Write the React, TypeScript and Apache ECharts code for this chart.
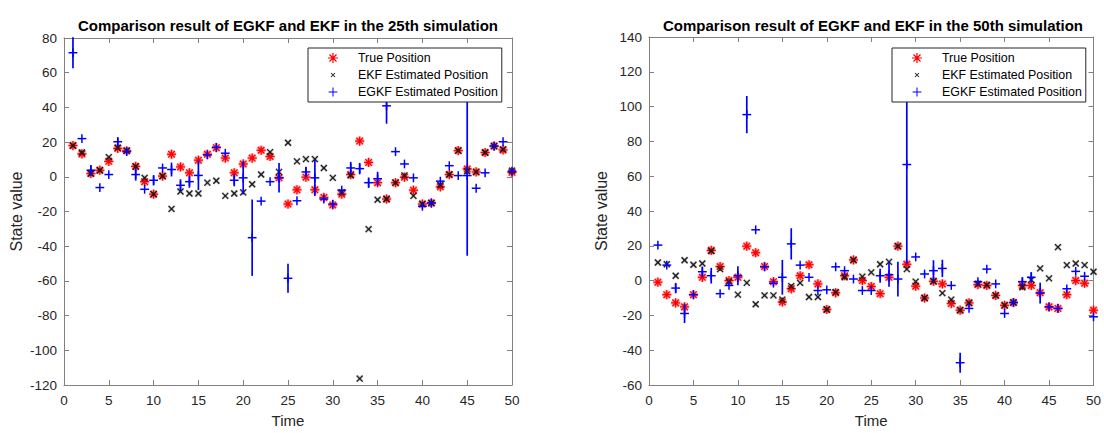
import React, { useEffect, useRef } from 'react';
import * as echarts from 'echarts';

// ---- data ----
const TIME = [1, 2, 3, 4, 5, 6, 7, 8, 9, 10, 11, 12, 13, 14, 15, 16, 17, 18, 19, 20, 21, 22, 23, 24, 25, 26, 27, 28, 29, 30, 31, 32, 33, 34, 35, 36, 37, 38, 39, 40, 41, 42, 43, 44, 45, 46, 47, 48, 49, 50];

// 25th simulation
const TRUE_25 = [18, 13.2, 1.9, 3.8, 8.9, 16.4, 15, 6, -2.8, -10, 0.4, 13, 5.7, 2.3, 9.6, 13, 16.8, 10.8, 2.3, 7.4, 10.8, 15.3, 11.7, -0.6, -15.7, -7.5, -0.2, -7.5, -11.9, -16.2, -10, 1.3, 20.6, 8.3, -3.4, -12.8, -3.4, -0.2, -7.7, -15.7, -15.1, -5.8, 1.3, 15.1, 4.5, 2.8, 14, 17.7, 15.5, 2.6];
const EKF_25 = [18, 14, 1.9, 3.8, 11.3, 16.8, 15, 6, -0.6, -10, 0.4, -18.5, -8.5, -9.6, -9.6, -3.4, -2.3, -11, -9.6, -9, -4.3, 1.3, 14.2, 2.8, 19.6, 8.9, 10.2, 10.2, 5.1, -0.6, -9, 0.8, -116.3, -30.2, -13.2, -12.8, -3.4, 0.8, -11, -15.7, -15.1, -4.7, 1.3, 15.1, 3.2, 2.8, 14, 17.7, 15.8, 3.6];
const EGKF_25 = [71.5, 22, 3.8, -6.2, 1.3, 20.2, 14.5, 1.3, -7.2, -2, 5.1, 4.2, -4.9, -2.8, 0.8, 12.6, 17, 13.6, -2, -0.6, -35.1, -14, -2.8, -0.6, -58.5, -13.8, 2.8, -0.6, -12.8, -15.7, -7.7, 5.1, 4.7, -3.4, -1.1, 40.9, 14.5, 7.4, -0.6, -17, -15.1, -2.5, 6.4, 0.7, 0.7, -6.6, 2.3, 17.7, 20.2, 3.2];
const ERR_25 = [9, 0, 3, 0, 0, 2.5, 0, 3.5, 0, 3, 0, 4, 3.5, 3.5, 8.5, 0, 0, 0, 3.5, 9.5, 22, 0, 0, 8.5, 8.4, 0, 3, 10.4, 0, 0, 0, 3.5, 3.3, 3, 4, 10.3, 0, 0, 0, 0, 0, 0, 0, 0, 46.2, 0, 0, 0, 0, 0];

// 50th simulation
const TRUE_50 = [-0.9, -8.1, -12.8, -15.1, -8.1, 1.9, 17.4, 8.1, 0, 1.9, 19.8, 16, 8.1, -0.6, -12.3, -4.7, 2.8, 9.1, -1.9, -16.6, -7, 2.8, 11.9, 0, -3.4, -7.5, 1.9, 19.8, 9.4, -3.2, -10, -0.4, -1.9, -13.2, -17, -12.8, -2.3, -2.8, -8.5, -14.2, -12.6, -2.8, -2.8, -7, -15.1, -16, -8.1, 0, -1.5, -17];
const EKF_50 = [10.4, 9.4, 2.8, 11.7, 9.1, 9.8, 17, 6.6, -0.6, -8.1, -1.3, -13.6, -8.5, -8.5, -10.9, -3.2, -1.3, -9.4, -9.4, -16.6, -6.6, 1.9, 11.9, 2.3, 4.7, 9.4, 10.8, 19.8, 6.6, -0.6, -10, -0.4, -7.2, -10.9, -17, -12.8, -1.9, -2.5, -8.5, -14.2, -12.6, -3.8, 0.4, 7, 1.3, 19.2, 8.9, 9.8, 8.9, 5.1];
const EGKF_50 = [20.4, 8.9, -4.3, -18.9, -8.1, 5.1, 2.8, -7.5, -2.8, 2.8, 95.4, 29.2, 7.9, -1.5, 1.9, 21.1, 8.9, 1.9, -5.7, -5.3, 7.9, 5.7, 0.9, -5.7, -5.7, 2.8, 3.4, 0.9, 66.7, 13.6, 3.8, 5.7, 7, -2.8, -47.2, -16, -0.6, 6.6, -1.9, -18.9, -12.6, -0.6, 1.9, -7.2, -15.1, -16, -4.7, 5.3, 2.5, -20.8];
const ERR_50 = [0, 0, 3, 5.5, 0, 3, 4.5, 0, 0, 5.5, 10.7, 0, 0, 0, 10, 9, 0, 0, 0, 0, 0, 0, 0, 0, 0, 4, 7, 10, 57, 0, 0, 6, 5, 0, 5.7, 0, 0, 0, 0, 0, 0, 2.4, 3, 6, 0, 0, 0, 0, 0, 0];

const TITLES = [
  'Comparison result of EGKF and EKF in the 25th simulation',
  'Comparison result of EGKF and EKF in the 50th simulation',
];
const SERIES_NAMES = ['True Position', 'EKF Estimated Position', 'EGKF Estimated Position'];
const X_RANGE = { min: 0, max: 50, interval: 5 };
const Y_RANGE_25 = { min: -120, max: 80, interval: 20 };
const Y_RANGE_50 = { min: -60, max: 140, interval: 20 };
const X_NAME = 'Time';
const Y_NAME = 'State value';

// ---- styles ----
const FONT = 'Liberation Sans, Arial, Helvetica, sans-serif';
const AXIS_COLOR = '#808080';
const LABEL_COLOR = '#262626';
const RED = '#ff0000';
const BLACK = '#1a1a1a';
const BLUE = '#0000ff';

const ICON_STAR = 'path://M4.4,0h1.2v10h-1.2z M0,4.4h10v1.2h-10z M1.92,1.08L8.92,8.08L8.08,8.92L1.08,1.92z M8.92,1.92L1.92,8.92L1.08,8.08L8.08,1.08z';
const ICON_X = 'path://M0,0h0.01v0.01h-0.01z M9.99,9.99h0.01v0.01h-0.01z M3.35,2.65L7.35,6.65L6.65,7.35L2.65,3.35z M7.35,3.35L3.35,7.35L2.65,6.65L6.65,2.65z';
const ICON_PLUS = 'path://M0,0h0.01v0.01h-0.01z M9.99,9.99h0.01v0.01h-0.01z M4.5,0.6h1v8.8h-1z M0.6,4.5h8.8v1h-8.8z';

const GRIDS = [
  { left: 64, top: 38, width: 448, height: 353 },
  { left: 649, top: 37, width: 448, height: 354 },
];

function seg(x1: number, y1: number, x2: number, y2: number, stroke: string, lineWidth: number) {
  return { type: 'line', shape: { x1, y1, x2, y2 }, style: { stroke, lineWidth, fill: null }, silent: true };
}

function starSeries(name: string, values: number[], idx: number) {
  return {
    type: 'custom', name, xAxisIndex: idx * 2, yAxisIndex: idx * 2,
    data: TIME.map((t, i) => [t, values[i]]),
    encode: { x: 0, y: 1 },
    itemStyle: { color: RED },
    z: 2,
    renderItem: (_p: any, api: any) => {
      const c = api.coord([api.value(0), api.value(1)]);
      const r = 4.6, d = 3.3;
      const arms = [[-r, 0, r, 0], [0, -r, 0, r], [-d, -d, d, d], [-d, d, d, -d]];
      const children: any[] = [];
      arms.forEach(a => children.push(seg(c[0] + a[0], c[1] + a[1], c[0] + a[2], c[1] + a[3], 'rgba(255,0,0,0.22)', 3.4)));
      arms.forEach(a => children.push(seg(c[0] + a[0], c[1] + a[1], c[0] + a[2], c[1] + a[3], RED, 1.3)));
      return { type: 'group', children };
    },
  };
}

function crossSeries(name: string, values: number[], idx: number) {
  return {
    type: 'custom', name, xAxisIndex: idx * 2, yAxisIndex: idx * 2,
    data: TIME.map((t, i) => [t, values[i]]),
    encode: { x: 0, y: 1 },
    itemStyle: { color: BLACK },
    z: 2,
    renderItem: (_p: any, api: any) => {
      const c = api.coord([api.value(0), api.value(1)]);
      const d = 3;
      const arms = [[-d, -d, d, d], [-d, d, d, -d]];
      const children: any[] = [];
      arms.forEach(a => children.push(seg(c[0] + a[0], c[1] + a[1], c[0] + a[2], c[1] + a[3], 'rgba(0,0,0,0.18)', 2.8)));
      arms.forEach(a => children.push(seg(c[0] + a[0], c[1] + a[1], c[0] + a[2], c[1] + a[3], BLACK, 1.2)));
      return { type: 'group', children };
    },
  };
}

function plusSeries(name: string, values: number[], errs: number[], idx: number) {
  return {
    type: 'custom', name, xAxisIndex: idx * 2, yAxisIndex: idx * 2,
    data: TIME.map((t, i) => [t, values[i], errs[i]]),
    encode: { x: 0, y: 1 },
    itemStyle: { color: BLUE },
    z: 2,
    renderItem: (_p: any, api: any) => {
      const x = api.value(0), v = api.value(1), e = api.value(2);
      const c = api.coord([x, v]);
      const top = api.coord([x, v + e]);
      const bot = api.coord([x, v - e]);
      const h = 4.4;
      const children: any[] = [];
      if (e > 0) children.push(seg(c[0], top[1], c[0], bot[1], BLUE, 1.7));
      children.push(seg(c[0] - h, c[1], c[0] + h, c[1], BLUE, 1.5));
      children.push(seg(c[0], c[1] - h, c[0], c[1] + h, BLUE, 1.5));
      return { type: 'group', children };
    },
  };
}

const lineStyle = { color: AXIS_COLOR, width: 1 };

function xAxesFor(gridIndex: number) {
  const base = { type: 'value', gridIndex, ...X_RANGE, splitLine: { show: false } };
  return [
    {
      ...base, position: 'bottom',
      axisLine: { show: true, onZero: false, lineStyle },
      axisTick: { show: true, inside: true, length: 5, lineStyle },
      axisLabel: { color: LABEL_COLOR, fontSize: 13.5, fontFamily: FONT, margin: 8 },
      name: X_NAME, nameLocation: 'middle', nameGap: 28,
      nameTextStyle: { color: LABEL_COLOR, fontSize: 15, fontFamily: FONT },
    },
    {
      ...base, position: 'top',
      axisLine: { show: true, onZero: false, lineStyle },
      axisTick: { show: true, inside: true, length: 5, lineStyle },
      axisLabel: { show: false },
    },
  ];
}

function yAxesFor(gridIndex: number, range: any) {
  const base = { type: 'value', gridIndex, ...range, splitLine: { show: false } };
  return [
    {
      ...base, position: 'left',
      axisLine: { show: true, onZero: false, lineStyle },
      axisTick: { show: true, inside: true, length: 5, lineStyle },
      axisLabel: { color: LABEL_COLOR, fontSize: 13.5, fontFamily: FONT, margin: 7 },
      name: Y_NAME, nameLocation: 'middle', nameGap: 40,
      nameTextStyle: { color: LABEL_COLOR, fontSize: 16, fontFamily: FONT },
    },
    {
      ...base, position: 'right',
      axisLine: { show: true, onZero: false, lineStyle },
      axisTick: { show: true, inside: true, length: 5, lineStyle },
      axisLabel: { show: false },
    },
  ];
}

function legendFor(left: number) {
  return {
    left, top: 48, orient: 'vertical', selectedMode: false,
    z: 20,
    itemWidth: 40, itemHeight: 10, itemGap: 5,
    padding: [4, 4, 4, 20],
    borderColor: '#262626', borderWidth: 1, backgroundColor: '#ffffff', borderRadius: 0,
    textStyle: { color: '#000', fontSize: 12.4, fontFamily: FONT },
    data: [
      { name: SERIES_NAMES[0], icon: ICON_STAR, itemStyle: { color: RED } },
      { name: SERIES_NAMES[1], icon: ICON_X, itemStyle: { color: BLACK } },
      { name: SERIES_NAMES[2], icon: ICON_PLUS, itemStyle: { color: BLUE } },
    ],
  };
}

export default function App() {
  const ref = useRef<HTMLDivElement>(null);
  useEffect(() => {
    const chart = echarts.init(ref.current!, null, { renderer: 'svg' });
    const option: any = {
      animation: false,
      backgroundColor: '#ffffff',
      grid: GRIDS.map(g => ({ ...g, containLabel: false })),
      xAxis: [...xAxesFor(0), ...xAxesFor(1)],
      yAxis: [...yAxesFor(0, Y_RANGE_25), ...yAxesFor(1, Y_RANGE_50)],
      legend: [legendFor(308), legendFor(892)],
      graphic: GRIDS.map((g, i) => ({
        type: 'text',
        x: g.left + g.width / 2,
        y: 25,
        style: {
          text: TITLES[i],
          align: 'center',
          verticalAlign: 'middle',
          font: `bold 15px ${FONT}`,
          fill: '#000',
        },
      })),
      series: [
        starSeries(SERIES_NAMES[0], TRUE_25, 0),
        crossSeries(SERIES_NAMES[1], EKF_25, 0),
        plusSeries(SERIES_NAMES[2], EGKF_25, ERR_25, 0),
        starSeries(SERIES_NAMES[0], TRUE_50, 1),
        crossSeries(SERIES_NAMES[1], EKF_50, 1),
        plusSeries(SERIES_NAMES[2], EGKF_50, ERR_50, 1),
      ],
    };
    chart.setOption(option);
    return () => chart.dispose();
  }, []);
  return <div ref={ref} style={{ position: 'fixed', left: 0, top: 0, width: 1104, height: 433, background: '#fff' }} />;
}
